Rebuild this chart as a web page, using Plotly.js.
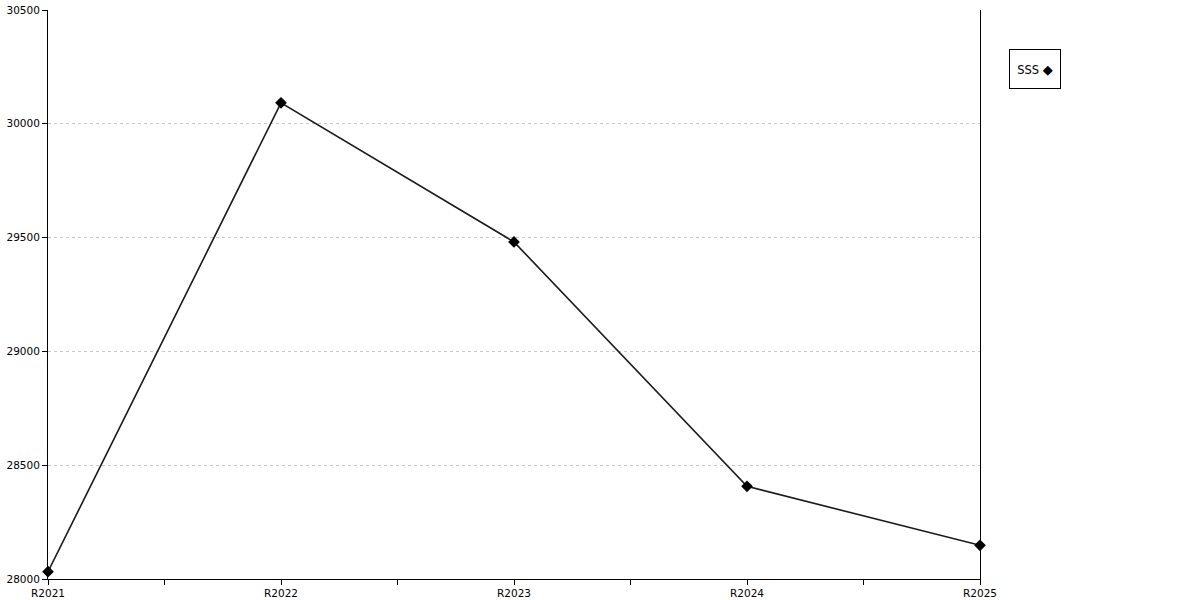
<!DOCTYPE html>
<html>
<head>
<meta charset="utf-8">
<script src="https://cdn.plot.ly/plotly-3.0.1.min.js"></script>
<style>html,body{margin:0;padding:0;background:#fff;}#chart{width:1200px;height:600px;}</style>
</head>
<body>
<div id="chart"></div>
<script>
const categories = ["R2021", "R2022", "R2023", "R2024", "R2025"];
const seriesName = "SSS";
const values = [28032, 30092, 29481, 28407, 28148];
const yTicks = [28000, 28500, 29000, 29500, 30000, 30500];
const yTickLabels = ["28000", "28500", "29000", "29500", "30000", "30500"];

const xIdx = categories.map((c, i) => i);
const tickVals = [];
const tickText = [];
categories.forEach((c, i) => {
  tickVals.push(i); tickText.push(c);
  if (i < categories.length - 1) { tickVals.push(i + 0.5); tickText.push(""); }
});

const font = {family: "DejaVu Sans, sans-serif", size: 10.5, color: "#000"};

const trace = {
  x: xIdx, y: values, type: "scatter", mode: "lines+markers",
  name: seriesName,
  line: {color: "#1a1a1a", width: 1.6},
  marker: {symbol: "diamond", size: 9, color: "#000"},
  showlegend: false,
  cliponaxis: false
};

const layout = {
  width: 1200, height: 600,
  margin: {l: 48, r: 220, t: 10, b: 21, pad: 0},
  paper_bgcolor: "#fff", plot_bgcolor: "#fff",
  font: font,
  showlegend: false,
  xaxis: {
    range: [0, categories.length - 1], tickmode: "array", tickvals: tickVals, ticktext: tickText,
    showline: true, linecolor: "#000", linewidth: 1, showgrid: false, zeroline: false,
    ticks: "outside", ticklen: 5, tickcolor: "#000", tickfont: font, ticklabelstandoff: -1
  },
  yaxis: {
    range: [yTicks[0], yTicks[yTicks.length - 1]], tickmode: "array", tickvals: yTicks, ticktext: yTickLabels,
    showline: true, mirror: true, linecolor: "#000", linewidth: 1,
    showgrid: true, gridcolor: "#c8c8c8", griddash: "dot", gridwidth: 1, zeroline: false,
    ticks: "outside", ticklen: 5, tickcolor: "#000", tickfont: font
  },
  annotations: [{
    xref: "paper", yref: "paper", x: (1035 - 48) / 932, y: (579 - 69) / 569,
    xanchor: "center", yanchor: "middle",
    text: seriesName + " <span style=\"font-size:13px\">◆</span>", showarrow: false,
    font: {family: "DejaVu Sans, sans-serif", size: 11.5, color: "#000"},
    bordercolor: "#000", borderwidth: 1, bgcolor: "#fff",
    width: 48, height: 36, align: "center", valign: "middle"
  }]
};

Plotly.newPlot("chart", [trace], layout, {displayModeBar: false, staticPlot: true});
</script>
</body>
</html>
